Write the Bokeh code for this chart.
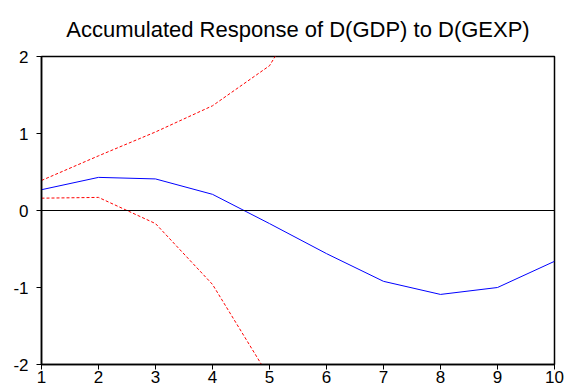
from bokeh.plotting import figure
from bokeh.models import Range1d, Span, FixedTicker
from bokeh.embed import file_html
from bokeh.resources import INLINE

periods = [1, 2, 3, 4, 5, 6, 7, 8, 9, 10]
response = [0.27, 0.43, 0.41, 0.21, -0.17, -0.56, -0.92, -1.09, -1.00, -0.66]
upper_band = [0.39, 0.71, 1.02, 1.36, 1.88, 3.10, 4.20, 5.10, 5.80, 6.30]
lower_band = [0.16, 0.17, -0.17, -0.96, -2.17, -3.30, -4.30, -5.00, -5.50, -5.70]
y_ticks = [-2, -1, 0, 1, 2]
y_tick_labels = ["-2", "-1", "0", "1", "2"]
title_text = "Accumulated Response of D(GDP) to D(GEXP)"

FONT = "Liberation Sans"

p = figure(width=568, height=385, output_backend="svg", toolbar_location=None,
           x_range=Range1d(1, 10), y_range=Range1d(-2, 2),
           min_border_left=41, min_border_right=14, min_border_bottom=21, min_border_top=55)

p.title.text = title_text
p.title.align = "center"
p.title.text_font = FONT
p.title.text_font_size = "22px"
p.title.text_font_style = "normal"
p.title.text_color = "#000000"
p.title.text_line_height = 1.0
p.title.standoff = 29

p.outline_line_color = "#000000"
p.outline_line_width = 1.5
p.xgrid.visible = False
p.ygrid.visible = False

p.line(periods, response, line_color="#0000ff", line_width=1)
p.line(periods, upper_band, line_color="#ff0000", line_width=1, line_dash="3 2")
p.line(periods, lower_band, line_color="#ff0000", line_width=1, line_dash="3 2")

p.add_layout(Span(location=0, dimension="width", line_color="#000000", line_width=1))

for ax in (p.xaxis[0], p.yaxis[0]):
    ax.axis_line_color = "#000000"
    ax.axis_line_width = 1.5
    ax.major_tick_line_color = "#000000"
    ax.major_tick_in = 0
    ax.major_tick_out = 5
    ax.minor_tick_line_color = None
    ax.major_label_text_font = FONT
    ax.major_label_text_font_size = "17px"
    ax.major_label_text_color = "#000000"

p.xaxis[0].ticker = FixedTicker(ticks=periods)
p.yaxis[0].ticker = FixedTicker(ticks=y_ticks)
p.yaxis[0].major_label_overrides = {t: s for t, s in zip(y_ticks, y_tick_labels)}
p.xaxis[0].major_label_standoff = 1
p.yaxis[0].major_label_standoff = 8

open("out.html", "w").write(file_html(p, INLINE))
